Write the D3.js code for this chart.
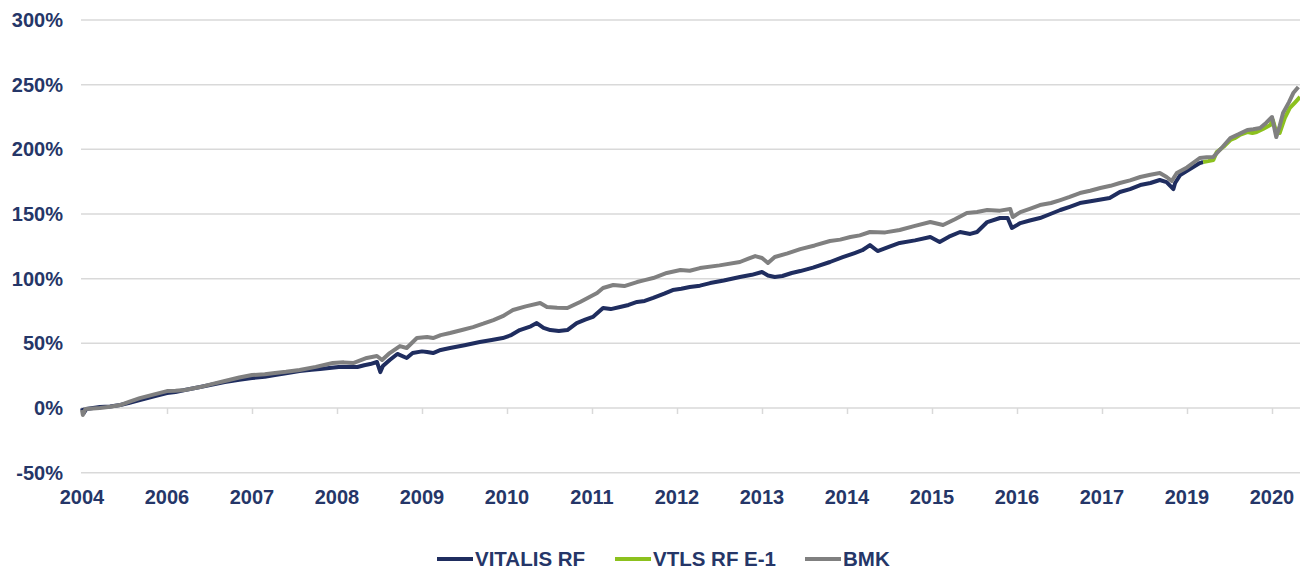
<!DOCTYPE html>
<html>
<head>
<meta charset="utf-8">
<script src="https://cdn.jsdelivr.net/npm/d3@7"></script>
<style>
    body { margin: 0; background: #fff; }
    svg text { font-family: "Liberation Sans", Arial, sans-serif; font-weight: bold; fill: #253668; }
</style>
</head>
<body>
<div id="chart"></div>
<script>
// axis labels (evenly spaced on the category axis)
var xLabels = ["2004", "2006", "2007", "2008", "2009", "2010", "2011", "2012",
               "2013", "2014", "2015", "2016", "2017", "2019", "2020"];
var yTicks = [-50, 0, 50, 100, 150, 200, 250, 300];

// series: [position on axis, return %]
var vitalis = [
    [0, 0], [0.02, -3.9], [0.05, -0.8], [0.21, 0.8], [0.33, 1.2], [0.45, 2.3], [0.56, 4.1], [0.68, 6.2],
    [0.86, 9.3], [1.0, 11.6], [1.1, 12.4], [1.21, 13.9], [1.39, 16.2], [1.55, 18.4], [1.68, 20.1],
    [1.85, 21.9], [2.0, 23.2], [2.15, 24.2], [2.27, 25.5], [2.4, 26.8], [2.56, 28.6], [2.7, 29.5],
    [2.8, 30.2], [3.02, 31.7], [3.15, 31.9], [3.24, 31.7], [3.32, 33.1], [3.39, 34.0], [3.47, 35.6],
    [3.51, 27.8], [3.54, 32.5], [3.62, 37.1], [3.71, 41.8], [3.82, 38.7], [3.89, 42.5], [4.0, 43.8],
    [4.06, 43.3], [4.13, 42.5], [4.22, 44.9], [4.33, 46.4], [4.5, 48.6], [4.68, 51.0], [4.82, 52.6],
    [4.95, 54.1], [5.05, 56.4], [5.15, 60.3], [5.28, 63.2], [5.35, 65.7], [5.43, 62.0], [5.51, 60.3],
    [5.61, 59.5], [5.71, 60.3], [5.82, 65.7], [5.92, 68.3], [6.01, 70.4], [6.13, 77.3], [6.22, 76.5],
    [6.33, 78.1], [6.43, 79.7], [6.53, 82.0], [6.62, 82.8], [6.72, 85.1], [6.85, 88.4], [6.95, 91.2],
    [7.05, 92.2], [7.15, 93.6], [7.27, 94.6], [7.39, 96.6], [7.55, 98.6], [7.74, 101.3], [7.88, 103.0],
    [8.0, 105.2], [8.07, 102.5], [8.15, 101.3], [8.24, 102.1], [8.35, 104.4], [8.45, 105.9],
    [8.6, 108.6], [8.8, 112.9], [8.95, 116.6], [9.09, 119.8], [9.18, 122.0], [9.27, 126.0],
    [9.36, 121.4], [9.5, 124.8], [9.62, 127.6], [9.8, 129.6], [9.98, 132.2], [10.09, 128.4],
    [10.2, 132.5], [10.33, 136.1], [10.45, 134.6], [10.53, 136.1], [10.65, 143.8], [10.8, 146.9],
    [10.89, 146.9], [10.94, 139.2], [11.04, 143.0], [11.15, 145.0], [11.27, 146.9], [11.4, 150.2],
    [11.51, 153.1], [11.62, 155.6], [11.74, 158.5], [11.9, 160.2], [12.09, 162.4], [12.21, 167.0],
    [12.33, 169.3], [12.45, 172.4], [12.57, 174.0], [12.68, 176.3], [12.76, 174.7], [12.84, 169.3],
    [12.86, 174.0], [12.92, 180.2], [13.03, 184.5], [13.15, 189.4], [13.19, 190.2]
];

var vtlsE1 = [
    [13.19, 190.2], [13.25, 190.9], [13.31, 191.8], [13.35, 197.9], [13.43, 202.0], [13.51, 207.2],
    [13.56, 208.6], [13.62, 211.1], [13.71, 213.4], [13.77, 212.6], [13.82, 213.4], [13.9, 216.0],
    [13.98, 218.8], [14.01, 222.7], [14.05, 213.4], [14.09, 212.6], [14.15, 224.2], [14.21, 232.0],
    [14.27, 236.2], [14.33, 240.5]
];

var bmk = [
    [0, -1.5], [0.01, -5.4], [0.04, -0.8], [0.21, 0], [0.33, 1.0], [0.45, 2.3], [0.56, 5.0], [0.68, 7.7],
    [0.85, 10.6], [1.0, 13.1], [1.1, 13.4], [1.21, 13.9], [1.39, 16.2], [1.55, 18.9], [1.68, 20.9],
    [1.85, 23.6], [2.0, 25.5], [2.15, 26.2], [2.27, 27.1], [2.4, 28.0], [2.56, 29.4], [2.75, 31.8],
    [2.95, 34.8], [3.08, 35.3], [3.19, 34.8], [3.35, 38.7], [3.47, 40.2], [3.53, 37.1], [3.62, 42.5],
    [3.74, 47.9], [3.82, 46.4], [3.94, 54.1], [4.06, 54.9], [4.13, 54.1], [4.22, 56.4], [4.33, 58.0],
    [4.47, 60.3], [4.6, 62.6], [4.72, 65.2], [4.84, 68.0], [4.95, 71.0], [5.07, 75.8], [5.22, 78.6],
    [5.39, 81.2], [5.47, 78.1], [5.59, 77.6], [5.71, 77.3], [5.86, 82.0], [5.96, 85.4], [6.06, 88.9],
    [6.13, 92.8], [6.25, 95.1], [6.38, 94.3], [6.53, 97.4], [6.62, 98.9], [6.72, 100.5], [6.88, 104.4],
    [7.04, 106.7], [7.15, 106.1], [7.27, 108.2], [7.5, 110.3], [7.74, 112.9], [7.84, 115.5],
    [7.92, 117.5], [8.0, 116.0], [8.07, 112.1], [8.15, 116.8], [8.3, 119.6], [8.45, 122.9],
    [8.62, 125.7], [8.8, 129.1], [8.92, 130.2], [9.04, 132.2], [9.15, 133.5], [9.27, 136.1],
    [9.45, 135.8], [9.62, 137.6], [9.8, 140.8], [9.98, 143.8], [10.13, 141.5], [10.27, 146.0],
    [10.41, 150.8], [10.53, 151.6], [10.65, 153.1], [10.8, 152.6], [10.92, 153.9], [10.95, 147.7],
    [11.04, 151.5], [11.15, 154.0], [11.27, 156.9], [11.4, 158.5], [11.51, 160.8], [11.62, 163.2],
    [11.74, 166.2], [11.86, 168.0], [11.98, 170.1], [12.1, 171.8], [12.21, 174.0], [12.33, 176.0],
    [12.45, 178.6], [12.57, 180.4], [12.68, 181.7], [12.76, 178.6], [12.82, 175.5], [12.88, 181.7],
    [13.0, 186.0], [13.15, 193.3], [13.23, 193.9], [13.31, 194.1], [13.4, 200.5], [13.51, 208.8],
    [13.61, 211.8], [13.71, 215.0], [13.78, 215.5], [13.86, 216.5], [13.93, 220.4], [14.0, 225.0],
    [14.05, 209.5], [14.09, 218.0], [14.13, 228.1], [14.2, 236.5], [14.25, 243.5], [14.31, 248.2]
];

var seriesNames = ["VITALIS RF", "VTLS RF E-1", "BMK"];
var seriesColors = ["#1f2d5f", "#8cc11e", "#808080"];

var width = 1300, height = 570;

var svg = d3.select("#chart")
    .append("svg")
    .attr("width", width)
    .attr("height", height);

var x = d3.scaleLinear().domain([0, 14]).range([82, 1272]);
var y = d3.scaleLinear().domain([-50, 300]).range([472.7, 20]);

// gridlines
svg.append("g")
    .selectAll("line")
    .data(yTicks)
    .enter()
    .append("line")
    .attr("x1", 81)
    .attr("x2", 1300)
    .attr("y1", d => y(d))
    .attr("y2", d => y(d))
    .attr("stroke", "#d9d9d9")
    .attr("stroke-width", 1.5);

// y labels
svg.append("g")
    .selectAll("text")
    .data(yTicks)
    .enter()
    .append("text")
    .attr("x", 63)
    .attr("y", d => y(d) + 7)
    .attr("text-anchor", "end")
    .style("font-size", "20px")
    .text(d => d + "%");

// x axis sits on the 0% line, ticks hang down
var xAxis = d3.axisBottom(x)
    .tickValues(d3.range(xLabels.length))
    .tickSize(6)
    .tickFormat("");

var gx = svg.append("g")
    .attr("transform", `translate(0,${y(0)})`)
    .call(xAxis);
gx.select(".domain").remove();
gx.selectAll(".tick line").attr("stroke", "#d9d9d9").attr("stroke-width", 1.5);

svg.append("g")
    .selectAll("text")
    .data(xLabels)
    .enter()
    .append("text")
    .attr("x", (d, i) => x(i))
    .attr("y", 504)
    .attr("text-anchor", "middle")
    .style("font-size", "20px")
    .text(d => d);

// lines
var line = d3.line()
    .x(d => x(d[0]))
    .y(d => y(d[1]));

[vitalis, vtlsE1, bmk].forEach((data, i) => {
    svg.append("path")
        .datum(data)
        .attr("d", line)
        .attr("fill", "none")
        .attr("stroke", seriesColors[i])
        .attr("stroke-width", 4)
        .attr("stroke-linejoin", "round");
});

// legend
var legendX = [437, 615, 805];
seriesNames.forEach((name, i) => {
    var g = svg.append("g").attr("transform", `translate(${legendX[i]},559)`);
    g.append("line")
        .attr("x1", 0)
        .attr("x2", 36)
        .attr("stroke", seriesColors[i])
        .attr("stroke-width", 4);
    g.append("text")
        .attr("x", 38)
        .attr("y", 7)
        .style("font-size", "20.5px")
        .text(name);
});
</script>
</body>
</html>
